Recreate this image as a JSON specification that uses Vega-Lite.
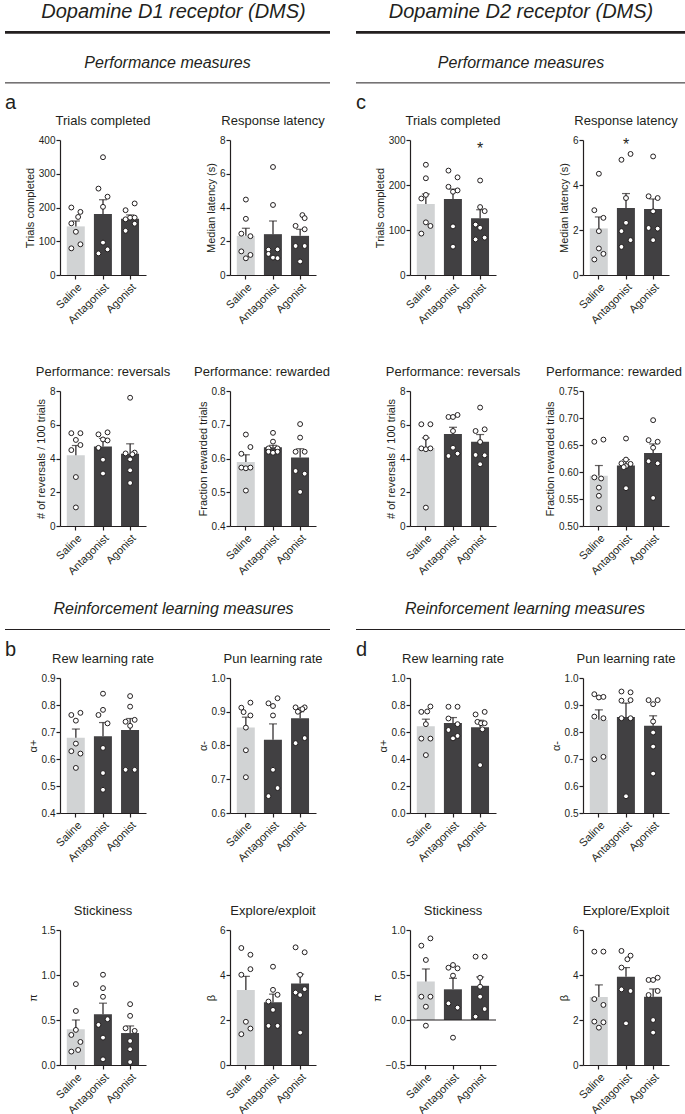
{
"$schema":"https://vega.github.io/schema/vega-lite/v6.json",
"background":"white",
"padding":{"left":3,"top":2,"right":0,"bottom":0},
"config":{
 "font":"Liberation Sans",
 "view":{"stroke":null},
 "axis":{"grid":false,"domainColor":"#231f20","tickColor":"#231f20","labelColor":"#231f20","titleColor":"#231f20","labelFontSize":10,"titleFontSize":11,"titleFontWeight":"normal","tickSize":4,"domainWidth":1.2,"tickWidth":1.2,"labelPadding":1,"titlePadding":3},
 "axisX":{"labelAngle":-45,"labelFontSize":11,"labelPadding":2},
 "title":{"fontSize":13,"fontWeight":"normal","color":"#231f20","offset":7}
},
"datasets":{
"hdr":[
{"c":"L","role":"title","t":"Dopamine D1 receptor (DMS)"},{"c":"L","role":"thick"},{"c":"L","role":"sub","t":"Performance measures"},{"c":"L","role":"thin"},
{"c":"R","role":"title","t":"Dopamine D2 receptor (DMS)"},{"c":"R","role":"thick"},{"c":"R","role":"sub","t":"Performance measures"},{"c":"R","role":"thin"},
{"c":"L2","role":"sub","t":"Reinforcement learning measures"},{"c":"L2","role":"thin"},
{"c":"R2","role":"sub","t":"Reinforcement learning measures"},{"c":"R2","role":"thin"}
],
"d":[
{"p":"a1","g":"Saline","k":"m","v":144,"hi":160},{"p":"a1","g":"Antagonist","k":"m","v":181,"hi":223},{"p":"a1","g":"Agonist","k":"m","v":167,"hi":178},
{"p":"a2","g":"Saline","k":"m","v":2.32,"hi":2.77},{"p":"a2","g":"Antagonist","k":"m","v":2.42,"hi":3.2},{"p":"a2","g":"Agonist","k":"m","v":2.32,"hi":2.71},
{"p":"a3","g":"Saline","k":"m","v":4.2,"hi":4.77},{"p":"a3","g":"Antagonist","k":"m","v":4.71,"hi":5.19},{"p":"a3","g":"Agonist","k":"m","v":4.28,"hi":4.87},
{"p":"a4","g":"Saline","k":"m","v":0.59,"hi":0.611},{"p":"a4","g":"Antagonist","k":"m","v":0.633,"hi":0.639},{"p":"a4","g":"Agonist","k":"m","v":0.603,"hi":0.629},
{"p":"c1","g":"Saline","k":"m","v":158,"hi":180},{"p":"c1","g":"Antagonist","k":"m","v":169,"hi":191},{"p":"c1","g":"Agonist","k":"m","v":126,"hi":145},
{"p":"c2","g":"Saline","k":"m","v":2.07,"hi":2.58},{"p":"c2","g":"Antagonist","k":"m","v":2.98,"hi":3.62},{"p":"c2","g":"Agonist","k":"m","v":2.93,"hi":3.38},
{"p":"c3","g":"Saline","k":"m","v":4.62,"hi":5.22},{"p":"c3","g":"Antagonist","k":"m","v":5.45,"hi":5.85},{"p":"c3","g":"Agonist","k":"m","v":5.0,"hi":5.42},
{"p":"c4","g":"Saline","k":"m","v":0.593,"hi":0.612},{"p":"c4","g":"Antagonist","k":"m","v":0.612,"hi":0.623},{"p":"c4","g":"Agonist","k":"m","v":0.635,"hi":0.652},
{"p":"b1","g":"Saline","k":"m","v":0.679,"hi":0.711},{"p":"b1","g":"Antagonist","k":"m","v":0.684,"hi":0.735},{"p":"b1","g":"Agonist","k":"m","v":0.707,"hi":0.75},
{"p":"b2","g":"Saline","k":"m","v":0.853,"hi":0.884},{"p":"b2","g":"Antagonist","k":"m","v":0.817,"hi":0.864},{"p":"b2","g":"Agonist","k":"m","v":0.881,"hi":0.9},
{"p":"b3","g":"Saline","k":"m","v":0.397,"hi":0.5},{"p":"b3","g":"Antagonist","k":"m","v":0.564,"hi":0.687},{"p":"b3","g":"Agonist","k":"m","v":0.355,"hi":0.434},
{"p":"b4","g":"Saline","k":"m","v":3.33,"hi":3.94},{"p":"b4","g":"Antagonist","k":"m","v":2.79,"hi":3.15},{"p":"b4","g":"Agonist","k":"m","v":3.62,"hi":4.04},
{"p":"d1","g":"Saline","k":"m","v":0.643,"hi":0.695},{"p":"d1","g":"Antagonist","k":"m","v":0.666,"hi":0.707},{"p":"d1","g":"Agonist","k":"m","v":0.635,"hi":0.687},
{"p":"d2","g":"Saline","k":"m","v":0.845,"hi":0.882},{"p":"d2","g":"Antagonist","k":"m","v":0.856,"hi":0.907},{"p":"d2","g":"Agonist","k":"m","v":0.823,"hi":0.86},
{"p":"d3","g":"Saline","k":"m","v":0.428,"hi":0.567},{"p":"d3","g":"Antagonist","k":"m","v":0.341,"hi":0.463},{"p":"d3","g":"Agonist","k":"m","v":0.38,"hi":0.478},
{"p":"d4","g":"Saline","k":"m","v":3.02,"hi":3.56},{"p":"d4","g":"Antagonist","k":"m","v":3.92,"hi":4.33},{"p":"d4","g":"Agonist","k":"m","v":3.03,"hi":3.38},
{"p":"c1","g":"Agonist","k":"t","v":280,"t":"*"},{"p":"c2","g":"Antagonist","k":"t","v":5.78,"t":"*"},
{"p":"a1","g":"Saline","k":"s","v":200,"j":-1},{"p":"a1","g":"Saline","k":"s","v":187,"j":1},{"p":"a1","g":"Saline","k":"s","v":172,"j":0.5},{"p":"a1","g":"Saline","k":"s","v":153,"j":-1},{"p":"a1","g":"Saline","k":"s","v":128,"j":0},{"p":"a1","g":"Saline","k":"s","v":91,"j":1},{"p":"a1","g":"Saline","k":"s","v":79,"j":-1},
{"p":"a1","g":"Antagonist","k":"s","v":349,"j":0},{"p":"a1","g":"Antagonist","k":"s","v":256,"j":-1},{"p":"a1","g":"Antagonist","k":"s","v":232,"j":1},{"p":"a1","g":"Antagonist","k":"s","v":202,"j":0},{"p":"a1","g":"Antagonist","k":"s","v":96,"j":0},{"p":"a1","g":"Antagonist","k":"s","v":76,"j":1},{"p":"a1","g":"Antagonist","k":"s","v":64,"j":-1},
{"p":"a1","g":"Agonist","k":"s","v":212,"j":1},{"p":"a1","g":"Agonist","k":"s","v":192,"j":-1},{"p":"a1","g":"Agonist","k":"s","v":170,"j":0},{"p":"a1","g":"Agonist","k":"s","v":165,"j":-1},{"p":"a1","g":"Agonist","k":"s","v":170,"j":1},{"p":"a1","g":"Agonist","k":"s","v":152,"j":1},{"p":"a1","g":"Agonist","k":"s","v":131,"j":-1},
{"p":"a2","g":"Saline","k":"s","v":4.47,"j":0},{"p":"a2","g":"Saline","k":"s","v":3.33,"j":0},{"p":"a2","g":"Saline","k":"s","v":2.45,"j":-1},{"p":"a2","g":"Saline","k":"s","v":2.3,"j":1},{"p":"a2","g":"Saline","k":"s","v":1.4,"j":-1},{"p":"a2","g":"Saline","k":"s","v":1.19,"j":1},{"p":"a2","g":"Saline","k":"s","v":0.99,"j":0},
{"p":"a2","g":"Antagonist","k":"s","v":6.4,"j":0},{"p":"a2","g":"Antagonist","k":"s","v":4.15,"j":0},{"p":"a2","g":"Antagonist","k":"s","v":1.52,"j":1},{"p":"a2","g":"Antagonist","k":"s","v":1.5,"j":-1},{"p":"a2","g":"Antagonist","k":"s","v":1.25,"j":-1},{"p":"a2","g":"Antagonist","k":"s","v":1.03,"j":0},{"p":"a2","g":"Antagonist","k":"s","v":1.0,"j":1},
{"p":"a2","g":"Agonist","k":"s","v":3.55,"j":0.5},{"p":"a2","g":"Agonist","k":"s","v":3.37,"j":1},{"p":"a2","g":"Agonist","k":"s","v":2.91,"j":-1},{"p":"a2","g":"Agonist","k":"s","v":2.71,"j":1},{"p":"a2","g":"Agonist","k":"s","v":1.72,"j":-1},{"p":"a2","g":"Agonist","k":"s","v":1.72,"j":1},{"p":"a2","g":"Agonist","k":"s","v":0.8,"j":0},
{"p":"a3","g":"Saline","k":"s","v":5.5,"j":-1},{"p":"a3","g":"Saline","k":"s","v":5.5,"j":1},{"p":"a3","g":"Saline","k":"s","v":5.1,"j":0},{"p":"a3","g":"Saline","k":"s","v":4.8,"j":1},{"p":"a3","g":"Saline","k":"s","v":4.5,"j":-1},{"p":"a3","g":"Saline","k":"s","v":2.9,"j":0},{"p":"a3","g":"Saline","k":"s","v":1.1,"j":0},
{"p":"a3","g":"Antagonist","k":"s","v":5.43,"j":-1},{"p":"a3","g":"Antagonist","k":"s","v":5.55,"j":1},{"p":"a3","g":"Antagonist","k":"s","v":5.13,"j":0},{"p":"a3","g":"Antagonist","k":"s","v":5.07,"j":1},{"p":"a3","g":"Antagonist","k":"s","v":4.63,"j":-1},{"p":"a3","g":"Antagonist","k":"s","v":3.93,"j":0},{"p":"a3","g":"Antagonist","k":"s","v":3.11,"j":0},
{"p":"a3","g":"Agonist","k":"s","v":7.6,"j":0},{"p":"a3","g":"Agonist","k":"s","v":4.35,"j":1},{"p":"a3","g":"Agonist","k":"s","v":4.3,"j":-1},{"p":"a3","g":"Agonist","k":"s","v":4.25,"j":0.5},{"p":"a3","g":"Agonist","k":"s","v":3.95,"j":0},{"p":"a3","g":"Agonist","k":"s","v":3.3,"j":0},{"p":"a3","g":"Agonist","k":"s","v":2.55,"j":0},
{"p":"a4","g":"Saline","k":"s","v":0.671,"j":0},{"p":"a4","g":"Saline","k":"s","v":0.634,"j":1},{"p":"a4","g":"Saline","k":"s","v":0.614,"j":-1},{"p":"a4","g":"Saline","k":"s","v":0.573,"j":-1},{"p":"a4","g":"Saline","k":"s","v":0.571,"j":0},{"p":"a4","g":"Saline","k":"s","v":0.573,"j":1},{"p":"a4","g":"Saline","k":"s","v":0.505,"j":0},
{"p":"a4","g":"Antagonist","k":"s","v":0.676,"j":0},{"p":"a4","g":"Antagonist","k":"s","v":0.65,"j":0},{"p":"a4","g":"Antagonist","k":"s","v":0.63,"j":-1},{"p":"a4","g":"Antagonist","k":"s","v":0.63,"j":1},{"p":"a4","g":"Antagonist","k":"s","v":0.62,"j":-1},{"p":"a4","g":"Antagonist","k":"s","v":0.617,"j":0},{"p":"a4","g":"Antagonist","k":"s","v":0.62,"j":1},
{"p":"a4","g":"Agonist","k":"s","v":0.702,"j":0},{"p":"a4","g":"Agonist","k":"s","v":0.662,"j":0},{"p":"a4","g":"Agonist","k":"s","v":0.62,"j":-1},{"p":"a4","g":"Agonist","k":"s","v":0.62,"j":1},{"p":"a4","g":"Agonist","k":"s","v":0.563,"j":-1},{"p":"a4","g":"Agonist","k":"s","v":0.555,"j":1},{"p":"a4","g":"Agonist","k":"s","v":0.501,"j":0},
{"p":"c1","g":"Saline","k":"s","v":245,"j":0},{"p":"c1","g":"Saline","k":"s","v":215,"j":0},{"p":"c1","g":"Saline","k":"s","v":178,"j":0},{"p":"c1","g":"Saline","k":"s","v":170,"j":-1},{"p":"c1","g":"Saline","k":"s","v":117,"j":0},{"p":"c1","g":"Saline","k":"s","v":109,"j":1},{"p":"c1","g":"Saline","k":"s","v":92,"j":-1},
{"p":"c1","g":"Antagonist","k":"s","v":232,"j":-1},{"p":"c1","g":"Antagonist","k":"s","v":217,"j":1},{"p":"c1","g":"Antagonist","k":"s","v":196,"j":-1},{"p":"c1","g":"Antagonist","k":"s","v":188,"j":1},{"p":"c1","g":"Antagonist","k":"s","v":185,"j":0},{"p":"c1","g":"Antagonist","k":"s","v":108,"j":0},{"p":"c1","g":"Antagonist","k":"s","v":63,"j":0},
{"p":"c1","g":"Agonist","k":"s","v":210,"j":0},{"p":"c1","g":"Agonist","k":"s","v":151,"j":0},{"p":"c1","g":"Agonist","k":"s","v":142,"j":1},{"p":"c1","g":"Agonist","k":"s","v":112,"j":-1},{"p":"c1","g":"Agonist","k":"s","v":105,"j":0},{"p":"c1","g":"Agonist","k":"s","v":83,"j":1},{"p":"c1","g":"Agonist","k":"s","v":79,"j":-1},
{"p":"c2","g":"Saline","k":"s","v":4.5,"j":0},{"p":"c2","g":"Saline","k":"s","v":2.88,"j":-1},{"p":"c2","g":"Saline","k":"s","v":2.54,"j":1},{"p":"c2","g":"Saline","k":"s","v":1.95,"j":0},{"p":"c2","g":"Saline","k":"s","v":1.18,"j":0},{"p":"c2","g":"Saline","k":"s","v":0.94,"j":1},{"p":"c2","g":"Saline","k":"s","v":0.69,"j":-1},
{"p":"c2","g":"Antagonist","k":"s","v":5.12,"j":-1},{"p":"c2","g":"Antagonist","k":"s","v":5.38,"j":1},{"p":"c2","g":"Antagonist","k":"s","v":3.42,"j":0},{"p":"c2","g":"Antagonist","k":"s","v":2.32,"j":0},{"p":"c2","g":"Antagonist","k":"s","v":1.95,"j":-1},{"p":"c2","g":"Antagonist","k":"s","v":1.55,"j":1},{"p":"c2","g":"Antagonist","k":"s","v":1.25,"j":-1},
{"p":"c2","g":"Agonist","k":"s","v":5.27,"j":0},{"p":"c2","g":"Agonist","k":"s","v":3.5,"j":-1},{"p":"c2","g":"Agonist","k":"s","v":3.42,"j":1},{"p":"c2","g":"Agonist","k":"s","v":2.83,"j":0},{"p":"c2","g":"Agonist","k":"s","v":2.09,"j":-1},{"p":"c2","g":"Agonist","k":"s","v":2.06,"j":1},{"p":"c2","g":"Agonist","k":"s","v":1.55,"j":0},
{"p":"c3","g":"Saline","k":"s","v":6.03,"j":-1},{"p":"c3","g":"Saline","k":"s","v":6.03,"j":1},{"p":"c3","g":"Saline","k":"s","v":5.24,"j":0},{"p":"c3","g":"Saline","k":"s","v":4.6,"j":-1},{"p":"c3","g":"Saline","k":"s","v":4.55,"j":0},{"p":"c3","g":"Saline","k":"s","v":4.6,"j":1},{"p":"c3","g":"Saline","k":"s","v":1.09,"j":0},
{"p":"c3","g":"Antagonist","k":"s","v":6.46,"j":-1},{"p":"c3","g":"Antagonist","k":"s","v":6.46,"j":0},{"p":"c3","g":"Antagonist","k":"s","v":6.58,"j":1},{"p":"c3","g":"Antagonist","k":"s","v":5.63,"j":0},{"p":"c3","g":"Antagonist","k":"s","v":4.64,"j":0},{"p":"c3","g":"Antagonist","k":"s","v":4.15,"j":-1},{"p":"c3","g":"Antagonist","k":"s","v":4.29,"j":1},
{"p":"c3","g":"Agonist","k":"s","v":7.02,"j":0},{"p":"c3","g":"Agonist","k":"s","v":5.63,"j":-1},{"p":"c3","g":"Agonist","k":"s","v":5.73,"j":1},{"p":"c3","g":"Agonist","k":"s","v":4.98,"j":0},{"p":"c3","g":"Agonist","k":"s","v":4.21,"j":-1},{"p":"c3","g":"Agonist","k":"s","v":4.19,"j":1},{"p":"c3","g":"Agonist","k":"s","v":3.66,"j":0},
{"p":"c4","g":"Saline","k":"s","v":0.656,"j":-1},{"p":"c4","g":"Saline","k":"s","v":0.66,"j":1},{"p":"c4","g":"Saline","k":"s","v":0.59,"j":-1},{"p":"c4","g":"Saline","k":"s","v":0.588,"j":0.5},{"p":"c4","g":"Saline","k":"s","v":0.571,"j":0},{"p":"c4","g":"Saline","k":"s","v":0.556,"j":0},{"p":"c4","g":"Saline","k":"s","v":0.533,"j":0},
{"p":"c4","g":"Antagonist","k":"s","v":0.662,"j":0},{"p":"c4","g":"Antagonist","k":"s","v":0.623,"j":0},{"p":"c4","g":"Antagonist","k":"s","v":0.616,"j":-1},{"p":"c4","g":"Antagonist","k":"s","v":0.615,"j":1},{"p":"c4","g":"Antagonist","k":"s","v":0.611,"j":0},{"p":"c4","g":"Antagonist","k":"s","v":0.609,"j":-0.5},{"p":"c4","g":"Antagonist","k":"s","v":0.57,"j":0},
{"p":"c4","g":"Agonist","k":"s","v":0.696,"j":0},{"p":"c4","g":"Agonist","k":"s","v":0.659,"j":-1},{"p":"c4","g":"Agonist","k":"s","v":0.656,"j":1},{"p":"c4","g":"Agonist","k":"s","v":0.645,"j":0},{"p":"c4","g":"Agonist","k":"s","v":0.62,"j":-1},{"p":"c4","g":"Agonist","k":"s","v":0.616,"j":1},{"p":"c4","g":"Agonist","k":"s","v":0.552,"j":0},
{"p":"b1","g":"Saline","k":"s","v":0.763,"j":-1},{"p":"b1","g":"Saline","k":"s","v":0.771,"j":1},{"p":"b1","g":"Saline","k":"s","v":0.742,"j":0},{"p":"b1","g":"Saline","k":"s","v":0.657,"j":0},{"p":"b1","g":"Saline","k":"s","v":0.629,"j":-1},{"p":"b1","g":"Saline","k":"s","v":0.62,"j":1},{"p":"b1","g":"Saline","k":"s","v":0.567,"j":0},
{"p":"b1","g":"Antagonist","k":"s","v":0.842,"j":0},{"p":"b1","g":"Antagonist","k":"s","v":0.782,"j":0},{"p":"b1","g":"Antagonist","k":"s","v":0.763,"j":-1},{"p":"b1","g":"Antagonist","k":"s","v":0.732,"j":1},{"p":"b1","g":"Antagonist","k":"s","v":0.641,"j":0},{"p":"b1","g":"Antagonist","k":"s","v":0.548,"j":0},{"p":"b1","g":"Antagonist","k":"s","v":0.486,"j":0},
{"p":"b1","g":"Agonist","k":"s","v":0.833,"j":0},{"p":"b1","g":"Agonist","k":"s","v":0.794,"j":0},{"p":"b1","g":"Agonist","k":"s","v":0.738,"j":-1},{"p":"b1","g":"Agonist","k":"s","v":0.745,"j":1},{"p":"b1","g":"Agonist","k":"s","v":0.723,"j":0},{"p":"b1","g":"Agonist","k":"s","v":0.56,"j":-1},{"p":"b1","g":"Agonist","k":"s","v":0.56,"j":1},
{"p":"b2","g":"Saline","k":"s","v":0.912,"j":-1},{"p":"b2","g":"Saline","k":"s","v":0.899,"j":-0.5},{"p":"b2","g":"Saline","k":"s","v":0.927,"j":1},{"p":"b2","g":"Saline","k":"s","v":0.889,"j":1},{"p":"b2","g":"Saline","k":"s","v":0.853,"j":0},{"p":"b2","g":"Saline","k":"s","v":0.786,"j":0},{"p":"b2","g":"Saline","k":"s","v":0.706,"j":0},
{"p":"b2","g":"Antagonist","k":"s","v":0.94,"j":1},{"p":"b2","g":"Antagonist","k":"s","v":0.925,"j":-1},{"p":"b2","g":"Antagonist","k":"s","v":0.917,"j":0},{"p":"b2","g":"Antagonist","k":"s","v":0.889,"j":0},{"p":"b2","g":"Antagonist","k":"s","v":0.728,"j":0},{"p":"b2","g":"Antagonist","k":"s","v":0.674,"j":1},{"p":"b2","g":"Antagonist","k":"s","v":0.65,"j":-1},
{"p":"b2","g":"Agonist","k":"s","v":0.913,"j":-1},{"p":"b2","g":"Agonist","k":"s","v":0.913,"j":1},{"p":"b2","g":"Agonist","k":"s","v":0.905,"j":0},{"p":"b2","g":"Agonist","k":"s","v":0.908,"j":0.5},{"p":"b2","g":"Agonist","k":"s","v":0.9,"j":-0.5},{"p":"b2","g":"Agonist","k":"s","v":0.822,"j":1},{"p":"b2","g":"Agonist","k":"s","v":0.807,"j":-1},
{"p":"b3","g":"Saline","k":"s","v":0.899,"j":0},{"p":"b3","g":"Saline","k":"s","v":0.6,"j":0},{"p":"b3","g":"Saline","k":"s","v":0.39,"j":0},{"p":"b3","g":"Saline","k":"s","v":0.334,"j":-1},{"p":"b3","g":"Saline","k":"s","v":0.256,"j":1},{"p":"b3","g":"Saline","k":"s","v":0.167,"j":0.5},{"p":"b3","g":"Saline","k":"s","v":0.149,"j":-1},
{"p":"b3","g":"Antagonist","k":"s","v":1.003,"j":0},{"p":"b3","g":"Antagonist","k":"s","v":0.854,"j":0},{"p":"b3","g":"Antagonist","k":"s","v":0.758,"j":0},{"p":"b3","g":"Antagonist","k":"s","v":0.509,"j":1},{"p":"b3","g":"Antagonist","k":"s","v":0.446,"j":-1},{"p":"b3","g":"Antagonist","k":"s","v":0.304,"j":0},{"p":"b3","g":"Antagonist","k":"s","v":0.063,"j":0},
{"p":"b3","g":"Agonist","k":"s","v":0.676,"j":0},{"p":"b3","g":"Agonist","k":"s","v":0.546,"j":0},{"p":"b3","g":"Agonist","k":"s","v":0.408,"j":-1},{"p":"b3","g":"Agonist","k":"s","v":0.379,"j":1},{"p":"b3","g":"Agonist","k":"s","v":0.267,"j":0},{"p":"b3","g":"Agonist","k":"s","v":0.175,"j":0},{"p":"b3","g":"Agonist","k":"s","v":0.033,"j":0},
{"p":"b4","g":"Saline","k":"s","v":5.2,"j":-1},{"p":"b4","g":"Saline","k":"s","v":4.9,"j":1},{"p":"b4","g":"Saline","k":"s","v":4.26,"j":1},{"p":"b4","g":"Saline","k":"s","v":4.01,"j":-1},{"p":"b4","g":"Saline","k":"s","v":1.92,"j":0},{"p":"b4","g":"Saline","k":"s","v":1.62,"j":1},{"p":"b4","g":"Saline","k":"s","v":1.37,"j":-1},
{"p":"b4","g":"Antagonist","k":"s","v":4.37,"j":0},{"p":"b4","g":"Antagonist","k":"s","v":3.34,"j":0},{"p":"b4","g":"Antagonist","k":"s","v":3.12,"j":1},{"p":"b4","g":"Antagonist","k":"s","v":2.82,"j":-1},{"p":"b4","g":"Antagonist","k":"s","v":2.45,"j":0},{"p":"b4","g":"Antagonist","k":"s","v":1.74,"j":-1},{"p":"b4","g":"Antagonist","k":"s","v":1.74,"j":1},
{"p":"b4","g":"Agonist","k":"s","v":5.23,"j":-1},{"p":"b4","g":"Agonist","k":"s","v":5.01,"j":1},{"p":"b4","g":"Agonist","k":"s","v":4.01,"j":0},{"p":"b4","g":"Agonist","k":"s","v":3.22,"j":-1},{"p":"b4","g":"Agonist","k":"s","v":3.37,"j":1},{"p":"b4","g":"Agonist","k":"s","v":3.11,"j":0},{"p":"b4","g":"Agonist","k":"s","v":1.44,"j":0},
{"p":"d1","g":"Saline","k":"s","v":0.749,"j":-1},{"p":"d1","g":"Saline","k":"s","v":0.752,"j":0.3},{"p":"d1","g":"Saline","k":"s","v":0.789,"j":1},{"p":"d1","g":"Saline","k":"s","v":0.658,"j":0},{"p":"d1","g":"Saline","k":"s","v":0.551,"j":-1},{"p":"d1","g":"Saline","k":"s","v":0.551,"j":1},{"p":"d1","g":"Saline","k":"s","v":0.429,"j":0},
{"p":"d1","g":"Antagonist","k":"s","v":0.787,"j":-1},{"p":"d1","g":"Antagonist","k":"s","v":0.787,"j":1},{"p":"d1","g":"Antagonist","k":"s","v":0.7,"j":-1},{"p":"d1","g":"Antagonist","k":"s","v":0.658,"j":1},{"p":"d1","g":"Antagonist","k":"s","v":0.615,"j":-1},{"p":"d1","g":"Antagonist","k":"s","v":0.553,"j":0},{"p":"d1","g":"Antagonist","k":"s","v":0.571,"j":1},
{"p":"d1","g":"Agonist","k":"s","v":0.73,"j":-1},{"p":"d1","g":"Agonist","k":"s","v":0.749,"j":1},{"p":"d1","g":"Agonist","k":"s","v":0.675,"j":-0.6},{"p":"d1","g":"Agonist","k":"s","v":0.665,"j":0.2},{"p":"d1","g":"Agonist","k":"s","v":0.665,"j":1},{"p":"d1","g":"Agonist","k":"s","v":0.62,"j":0.5},{"p":"d1","g":"Agonist","k":"s","v":0.355,"j":0},
{"p":"d2","g":"Saline","k":"s","v":0.94,"j":-1},{"p":"d2","g":"Saline","k":"s","v":0.928,"j":0},{"p":"d2","g":"Saline","k":"s","v":0.93,"j":1},{"p":"d2","g":"Saline","k":"s","v":0.857,"j":-1},{"p":"d2","g":"Saline","k":"s","v":0.851,"j":1},{"p":"d2","g":"Saline","k":"s","v":0.699,"j":-1},{"p":"d2","g":"Saline","k":"s","v":0.708,"j":1},
{"p":"d2","g":"Antagonist","k":"s","v":0.95,"j":-1},{"p":"d2","g":"Antagonist","k":"s","v":0.947,"j":1},{"p":"d2","g":"Antagonist","k":"s","v":0.916,"j":-1},{"p":"d2","g":"Antagonist","k":"s","v":0.918,"j":1},{"p":"d2","g":"Antagonist","k":"s","v":0.851,"j":-1},{"p":"d2","g":"Antagonist","k":"s","v":0.851,"j":1},{"p":"d2","g":"Antagonist","k":"s","v":0.562,"j":0},
{"p":"d2","g":"Agonist","k":"s","v":0.918,"j":-1},{"p":"d2","g":"Agonist","k":"s","v":0.918,"j":1},{"p":"d2","g":"Agonist","k":"s","v":0.903,"j":0},{"p":"d2","g":"Agonist","k":"s","v":0.839,"j":0},{"p":"d2","g":"Agonist","k":"s","v":0.798,"j":0},{"p":"d2","g":"Agonist","k":"s","v":0.746,"j":0},{"p":"d2","g":"Agonist","k":"s","v":0.646,"j":0},
{"p":"d3","g":"Saline","k":"s","v":0.826,"j":-1},{"p":"d3","g":"Saline","k":"s","v":0.907,"j":1},{"p":"d3","g":"Saline","k":"s","v":0.667,"j":0},{"p":"d3","g":"Saline","k":"s","v":0.259,"j":-1},{"p":"d3","g":"Saline","k":"s","v":0.259,"j":1},{"p":"d3","g":"Saline","k":"s","v":0.148,"j":0},{"p":"d3","g":"Saline","k":"s","v":-0.063,"j":0},
{"p":"d3","g":"Antagonist","k":"s","v":0.581,"j":-1},{"p":"d3","g":"Antagonist","k":"s","v":0.611,"j":0},{"p":"d3","g":"Antagonist","k":"s","v":0.574,"j":1},{"p":"d3","g":"Antagonist","k":"s","v":0.493,"j":0},{"p":"d3","g":"Antagonist","k":"s","v":0.185,"j":-1},{"p":"d3","g":"Antagonist","k":"s","v":0.137,"j":1},{"p":"d3","g":"Antagonist","k":"s","v":-0.196,"j":0},
{"p":"d3","g":"Agonist","k":"s","v":0.704,"j":-1},{"p":"d3","g":"Agonist","k":"s","v":0.704,"j":1},{"p":"d3","g":"Agonist","k":"s","v":0.47,"j":0},{"p":"d3","g":"Agonist","k":"s","v":0.37,"j":0},{"p":"d3","g":"Agonist","k":"s","v":0.259,"j":0},{"p":"d3","g":"Agonist","k":"s","v":0.122,"j":1},{"p":"d3","g":"Agonist","k":"s","v":0.037,"j":-1},
{"p":"d4","g":"Saline","k":"s","v":5.04,"j":-1},{"p":"d4","g":"Saline","k":"s","v":5.04,"j":1},{"p":"d4","g":"Saline","k":"s","v":2.93,"j":-1},{"p":"d4","g":"Saline","k":"s","v":2.67,"j":1},{"p":"d4","g":"Saline","k":"s","v":1.93,"j":-1},{"p":"d4","g":"Saline","k":"s","v":1.9,"j":1},{"p":"d4","g":"Saline","k":"s","v":1.66,"j":0},
{"p":"d4","g":"Antagonist","k":"s","v":5.07,"j":-1},{"p":"d4","g":"Antagonist","k":"s","v":4.7,"j":0.3},{"p":"d4","g":"Antagonist","k":"s","v":4.86,"j":1},{"p":"d4","g":"Antagonist","k":"s","v":4.33,"j":-1},{"p":"d4","g":"Antagonist","k":"s","v":3.36,"j":-1},{"p":"d4","g":"Antagonist","k":"s","v":3.29,"j":1},{"p":"d4","g":"Antagonist","k":"s","v":1.85,"j":0},
{"p":"d4","g":"Agonist","k":"s","v":3.78,"j":-1},{"p":"d4","g":"Agonist","k":"s","v":3.78,"j":0},{"p":"d4","g":"Agonist","k":"s","v":3.88,"j":1},{"p":"d4","g":"Agonist","k":"s","v":3.29,"j":1},{"p":"d4","g":"Agonist","k":"s","v":3.11,"j":-1},{"p":"d4","g":"Agonist","k":"s","v":2.0,"j":0},{"p":"d4","g":"Agonist","k":"s","v":1.44,"j":0}
]
},
"hconcat":[
{"vconcat":[
 {"width":270,"height":91,"data":{"name":"hdr"},"transform":[{"filter":"datum.c==='L'"}],
  "encoding":{"y":{"field":"role","type":"nominal","scale":{"type":"point","domain":["_1","title","_2","thick","_3","_4","sub","_5","thin","_6"],"padding":0},"axis":null}},
  "layer":[
   {"transform":[{"filter":"datum.role==='title'"}],"mark":{"type":"text","fontSize":20,"fontStyle":"italic","color":"#231f20","baseline":"middle","dx":6},"encoding":{"text":{"field":"t"},"x":{"datum":"mid","type":"nominal","scale":{"type":"point","domain":["start","mid","end"],"range":[-55,270],"padding":0},"axis":null}}},
   {"transform":[{"filter":"datum.role==='sub'"}],"mark":{"type":"text","fontSize":16,"fontStyle":"italic","color":"#231f20","baseline":"middle"},"encoding":{"text":{"field":"t"},"x":{"datum":"mid","type":"nominal","axis":null}}},
   {"transform":[{"filter":"datum.role==='thick'"}],"mark":{"type":"rule","strokeWidth":2.7,"color":"#231f20"},"encoding":{"x":{"datum":"start","type":"nominal","axis":null},"x2":{"datum":"end"}}},
   {"transform":[{"filter":"datum.role==='thin'"}],"mark":{"type":"rule","strokeWidth":1,"color":"#231f20"},"encoding":{"x":{"datum":"start","type":"nominal","axis":null},"x2":{"datum":"end"}}}
  ]},
 {"hconcat":[
  {"width":86,"height":135,"title":"Trials completed","data":{"name":"d"},"transform":[{"filter":"datum.p==='a1'"}],
   "encoding":{"x":{"field":"g","type":"nominal","sort":["Saline","Antagonist","Agonist"],"title":null,"scale":{"paddingInner":0.33,"paddingOuter":0.25}},"y":{"field":"v","type":"quantitative","title":"Trials completed","scale":{"domain":[0,400],"nice":false,"zero":false},"axis":{"values":[0,100,200,300,400]}}},
   "layer":[
    {"transform":[{"filter":"datum.k==='m'"}],"mark":{"type":"bar","clip":true},"encoding":{"color":{"field":"g","type":"nominal","scale":{"domain":["Saline","Antagonist","Agonist"],"range":["#d1d3d4","#414042","#414042"]},"legend":null}}},
    {"transform":[{"filter":"datum.k==='m'"}],"mark":{"type":"rule","color":"#231f20","strokeWidth":1.2},"encoding":{"y2":{"field":"hi"}}},
    {"transform":[{"filter":"datum.k==='m'"}],"mark":{"type":"tick","color":"#231f20","thickness":1.2,"size":8},"encoding":{"y":{"field":"hi","type":"quantitative","title":"Trials completed","scale":{"domain":[0,400],"nice":false,"zero":false}}}},
    {"transform":[{"filter":"datum.k==='s'"}],"mark":{"type":"point","shape":"circle","filled":true,"fill":"#ffffff","stroke":"#231f20","strokeWidth":1,"size":24,"opacity":1},"encoding":{"xOffset":{"field":"j","type":"quantitative","scale":{"domain":[-2,2]}}}}
   ]},
  {"width":86,"height":135,"title":"Response latency","data":{"name":"d"},"transform":[{"filter":"datum.p==='a2'"}],
   "encoding":{"x":{"field":"g","type":"nominal","sort":["Saline","Antagonist","Agonist"],"title":null,"scale":{"paddingInner":0.33,"paddingOuter":0.25}},"y":{"field":"v","type":"quantitative","title":"Median latency (s)","scale":{"domain":[0,8],"nice":false,"zero":false},"axis":{"values":[0,2,4,6,8]}}},
   "layer":[
    {"transform":[{"filter":"datum.k==='m'"}],"mark":{"type":"bar","clip":true},"encoding":{"color":{"field":"g","type":"nominal","scale":{"domain":["Saline","Antagonist","Agonist"],"range":["#d1d3d4","#414042","#414042"]},"legend":null}}},
    {"transform":[{"filter":"datum.k==='m'"}],"mark":{"type":"rule","color":"#231f20","strokeWidth":1.2},"encoding":{"y2":{"field":"hi"}}},
    {"transform":[{"filter":"datum.k==='m'"}],"mark":{"type":"tick","color":"#231f20","thickness":1.2,"size":8},"encoding":{"y":{"field":"hi","type":"quantitative","title":"Median latency (s)","scale":{"domain":[0,8],"nice":false,"zero":false}}}},
    {"transform":[{"filter":"datum.k==='s'"}],"mark":{"type":"point","shape":"circle","filled":true,"fill":"#ffffff","stroke":"#231f20","strokeWidth":1,"size":24,"opacity":1},"encoding":{"xOffset":{"field":"j","type":"quantitative","scale":{"domain":[-2,2]}}}}
   ]}
 ],"spacing":84,"bounds":"flush","title":{"text":"a","anchor":"start","frame":"group","dx":-55,"fontSize":20,"offset":2}},
 {"hconcat":[
  {"width":86,"height":135,"title":"Performance: reversals","data":{"name":"d"},"transform":[{"filter":"datum.p==='a3'"}],
   "encoding":{"x":{"field":"g","type":"nominal","sort":["Saline","Antagonist","Agonist"],"title":null,"scale":{"paddingInner":0.33,"paddingOuter":0.25}},"y":{"field":"v","type":"quantitative","title":"# of reversals / 100 trials","scale":{"domain":[0,8],"nice":false,"zero":false},"axis":{"values":[0,2,4,6,8]}}},
   "layer":[
    {"transform":[{"filter":"datum.k==='m'"}],"mark":{"type":"bar","clip":true},"encoding":{"color":{"field":"g","type":"nominal","scale":{"domain":["Saline","Antagonist","Agonist"],"range":["#d1d3d4","#414042","#414042"]},"legend":null}}},
    {"transform":[{"filter":"datum.k==='m'"}],"mark":{"type":"rule","color":"#231f20","strokeWidth":1.2},"encoding":{"y2":{"field":"hi"}}},
    {"transform":[{"filter":"datum.k==='m'"}],"mark":{"type":"tick","color":"#231f20","thickness":1.2,"size":8},"encoding":{"y":{"field":"hi","type":"quantitative","title":"# of reversals / 100 trials","scale":{"domain":[0,8],"nice":false,"zero":false}}}},
    {"transform":[{"filter":"datum.k==='s'"}],"mark":{"type":"point","shape":"circle","filled":true,"fill":"#ffffff","stroke":"#231f20","strokeWidth":1,"size":24,"opacity":1},"encoding":{"xOffset":{"field":"j","type":"quantitative","scale":{"domain":[-2,2]}}}}
   ]},
  {"width":86,"height":135,"title":{"text":"Performance: rewarded","dx":-11},"data":{"name":"d"},"transform":[{"filter":"datum.p==='a4'"}],
   "encoding":{"x":{"field":"g","type":"nominal","sort":["Saline","Antagonist","Agonist"],"title":null,"scale":{"paddingInner":0.33,"paddingOuter":0.25}},"y":{"field":"v","type":"quantitative","title":"Fraction rewarded trials","scale":{"domain":[0.4,0.8],"nice":false,"zero":false},"axis":{"values":[0.4,0.5,0.6,0.7,0.8],"format":".1f"}}},
   "layer":[
    {"transform":[{"filter":"datum.k==='m'"}],"mark":{"type":"bar","clip":true},"encoding":{"color":{"field":"g","type":"nominal","scale":{"domain":["Saline","Antagonist","Agonist"],"range":["#d1d3d4","#414042","#414042"]},"legend":null}}},
    {"transform":[{"filter":"datum.k==='m'"}],"mark":{"type":"rule","color":"#231f20","strokeWidth":1.2},"encoding":{"y2":{"field":"hi"}}},
    {"transform":[{"filter":"datum.k==='m'"}],"mark":{"type":"tick","color":"#231f20","thickness":1.2,"size":8},"encoding":{"y":{"field":"hi","type":"quantitative","title":"Fraction rewarded trials","scale":{"domain":[0.4,0.8],"nice":false,"zero":false}}}},
    {"transform":[{"filter":"datum.k==='s'"}],"mark":{"type":"point","shape":"circle","filled":true,"fill":"#ffffff","stroke":"#231f20","strokeWidth":1,"size":24,"opacity":1},"encoding":{"xOffset":{"field":"j","type":"quantitative","scale":{"domain":[-2,2]}}}}
   ]}
 ],"spacing":84,"bounds":"flush","title":{"text":" ","anchor":"start","frame":"group","dx":-55,"fontSize":20,"offset":20}},
 {"width":270,"height":63,"data":{"name":"hdr"},"transform":[{"filter":"datum.c==='L2'"}],
  "encoding":{"y":{"field":"role","type":"nominal","scale":{"type":"point","domain":["_1","_2","_3","sub","_5","thin","_6"],"padding":0},"axis":null}},
  "layer":[
   {"transform":[{"filter":"datum.role==='sub'"}],"mark":{"type":"text","fontSize":16,"fontStyle":"italic","color":"#231f20","baseline":"middle","dx":6},"encoding":{"text":{"field":"t"},"x":{"datum":"mid","type":"nominal","scale":{"type":"point","domain":["start","mid","end"],"range":[-55,270],"padding":0},"axis":null}}},
   {"transform":[{"filter":"datum.role==='thin'"}],"mark":{"type":"rule","strokeWidth":1,"color":"#231f20"},"encoding":{"x":{"datum":"start","type":"nominal","axis":null},"x2":{"datum":"end"}}}
  ]},
 {"hconcat":[
  {"width":86,"height":135,"title":"Rew learning rate","data":{"name":"d"},"transform":[{"filter":"datum.p==='b1'"}],
   "encoding":{"x":{"field":"g","type":"nominal","sort":["Saline","Antagonist","Agonist"],"title":null,"scale":{"paddingInner":0.33,"paddingOuter":0.25}},"y":{"field":"v","type":"quantitative","title":"α+","scale":{"domain":[0.4,0.9],"nice":false,"zero":false},"axis":{"values":[0.4,0.5,0.6,0.7,0.8,0.9],"format":".1f"}}},
   "layer":[
    {"transform":[{"filter":"datum.k==='m'"}],"mark":{"type":"bar","clip":true},"encoding":{"color":{"field":"g","type":"nominal","scale":{"domain":["Saline","Antagonist","Agonist"],"range":["#d1d3d4","#414042","#414042"]},"legend":null}}},
    {"transform":[{"filter":"datum.k==='m'"}],"mark":{"type":"rule","color":"#231f20","strokeWidth":1.2},"encoding":{"y2":{"field":"hi"}}},
    {"transform":[{"filter":"datum.k==='m'"}],"mark":{"type":"tick","color":"#231f20","thickness":1.2,"size":8},"encoding":{"y":{"field":"hi","type":"quantitative","title":"α+","scale":{"domain":[0.4,0.9],"nice":false,"zero":false}}}},
    {"transform":[{"filter":"datum.k==='s'"}],"mark":{"type":"point","shape":"circle","filled":true,"fill":"#ffffff","stroke":"#231f20","strokeWidth":1,"size":24,"opacity":1},"encoding":{"xOffset":{"field":"j","type":"quantitative","scale":{"domain":[-2,2]}}}}
   ]},
  {"width":86,"height":135,"title":"Pun learning rate","data":{"name":"d"},"transform":[{"filter":"datum.p==='b2'"}],
   "encoding":{"x":{"field":"g","type":"nominal","sort":["Saline","Antagonist","Agonist"],"title":null,"scale":{"paddingInner":0.33,"paddingOuter":0.25}},"y":{"field":"v","type":"quantitative","title":"α-","scale":{"domain":[0.6,1.0],"nice":false,"zero":false},"axis":{"values":[0.6,0.7,0.8,0.9,1.0],"format":".1f"}}},
   "layer":[
    {"transform":[{"filter":"datum.k==='m'"}],"mark":{"type":"bar","clip":true},"encoding":{"color":{"field":"g","type":"nominal","scale":{"domain":["Saline","Antagonist","Agonist"],"range":["#d1d3d4","#414042","#414042"]},"legend":null}}},
    {"transform":[{"filter":"datum.k==='m'"}],"mark":{"type":"rule","color":"#231f20","strokeWidth":1.2},"encoding":{"y2":{"field":"hi"}}},
    {"transform":[{"filter":"datum.k==='m'"}],"mark":{"type":"tick","color":"#231f20","thickness":1.2,"size":8},"encoding":{"y":{"field":"hi","type":"quantitative","title":"α-","scale":{"domain":[0.6,1.0],"nice":false,"zero":false}}}},
    {"transform":[{"filter":"datum.k==='s'"}],"mark":{"type":"point","shape":"circle","filled":true,"fill":"#ffffff","stroke":"#231f20","strokeWidth":1,"size":24,"opacity":1},"encoding":{"xOffset":{"field":"j","type":"quantitative","scale":{"domain":[-2,2]}}}}
   ]}
 ],"spacing":84,"bounds":"flush","title":{"text":"b","anchor":"start","frame":"group","dx":-55,"fontSize":20,"offset":-7}},
 {"hconcat":[
  {"width":86,"height":135,"title":"Stickiness","data":{"name":"d"},"transform":[{"filter":"datum.p==='b3'"}],
   "encoding":{"x":{"field":"g","type":"nominal","sort":["Saline","Antagonist","Agonist"],"title":null,"scale":{"paddingInner":0.33,"paddingOuter":0.25}},"y":{"field":"v","type":"quantitative","title":"π","scale":{"domain":[0,1.5],"nice":false,"zero":false},"axis":{"values":[0,0.5,1,1.5],"format":".1f"}}},
   "layer":[
    {"transform":[{"filter":"datum.k==='m'"}],"mark":{"type":"bar","clip":true},"encoding":{"color":{"field":"g","type":"nominal","scale":{"domain":["Saline","Antagonist","Agonist"],"range":["#d1d3d4","#414042","#414042"]},"legend":null}}},
    {"transform":[{"filter":"datum.k==='m'"}],"mark":{"type":"rule","color":"#231f20","strokeWidth":1.2},"encoding":{"y2":{"field":"hi"}}},
    {"transform":[{"filter":"datum.k==='m'"}],"mark":{"type":"tick","color":"#231f20","thickness":1.2,"size":8},"encoding":{"y":{"field":"hi","type":"quantitative","title":"π","scale":{"domain":[0,1.5],"nice":false,"zero":false}}}},
    {"transform":[{"filter":"datum.k==='s'"}],"mark":{"type":"point","shape":"circle","filled":true,"fill":"#ffffff","stroke":"#231f20","strokeWidth":1,"size":24,"opacity":1},"encoding":{"xOffset":{"field":"j","type":"quantitative","scale":{"domain":[-2,2]}}}}
   ]},
  {"width":86,"height":135,"title":"Explore/exploit","data":{"name":"d"},"transform":[{"filter":"datum.p==='b4'"}],
   "encoding":{"x":{"field":"g","type":"nominal","sort":["Saline","Antagonist","Agonist"],"title":null,"scale":{"paddingInner":0.33,"paddingOuter":0.25}},"y":{"field":"v","type":"quantitative","title":"β","scale":{"domain":[0,6],"nice":false,"zero":false},"axis":{"values":[0,2,4,6]}}},
   "layer":[
    {"transform":[{"filter":"datum.k==='m'"}],"mark":{"type":"bar","clip":true},"encoding":{"color":{"field":"g","type":"nominal","scale":{"domain":["Saline","Antagonist","Agonist"],"range":["#d1d3d4","#414042","#414042"]},"legend":null}}},
    {"transform":[{"filter":"datum.k==='m'"}],"mark":{"type":"rule","color":"#231f20","strokeWidth":1.2},"encoding":{"y2":{"field":"hi"}}},
    {"transform":[{"filter":"datum.k==='m'"}],"mark":{"type":"tick","color":"#231f20","thickness":1.2,"size":8},"encoding":{"y":{"field":"hi","type":"quantitative","title":"β","scale":{"domain":[0,6],"nice":false,"zero":false}}}},
    {"transform":[{"filter":"datum.k==='s'"}],"mark":{"type":"point","shape":"circle","filled":true,"fill":"#ffffff","stroke":"#231f20","strokeWidth":1,"size":24,"opacity":1},"encoding":{"xOffset":{"field":"j","type":"quantitative","scale":{"domain":[-2,2]}}}}
   ]}
 ],"spacing":84,"bounds":"flush","title":{"text":" ","anchor":"start","frame":"group","dx":-55,"fontSize":20,"offset":21}}
],"spacing":0,"bounds":"full"},
{"vconcat":[
 {"width":276,"height":91,"data":{"name":"hdr"},"transform":[{"filter":"datum.c==='R'"}],
  "encoding":{"y":{"field":"role","type":"nominal","scale":{"type":"point","domain":["_1","title","_2","thick","_3","_4","sub","_5","thin","_6"],"padding":0},"axis":null}},
  "layer":[
   {"transform":[{"filter":"datum.role==='title'"}],"mark":{"type":"text","fontSize":20,"fontStyle":"italic","color":"#231f20","baseline":"middle"},"encoding":{"text":{"field":"t"},"x":{"datum":"mid","type":"nominal","scale":{"type":"point","domain":["start","mid","end"],"range":[-54,276],"padding":0},"axis":null}}},
   {"transform":[{"filter":"datum.role==='sub'"}],"mark":{"type":"text","fontSize":16,"fontStyle":"italic","color":"#231f20","baseline":"middle"},"encoding":{"text":{"field":"t"},"x":{"datum":"mid","type":"nominal","axis":null}}},
   {"transform":[{"filter":"datum.role==='thick'"}],"mark":{"type":"rule","strokeWidth":2.7,"color":"#231f20"},"encoding":{"x":{"datum":"start","type":"nominal","axis":null},"x2":{"datum":"end"}}},
   {"transform":[{"filter":"datum.role==='thin'"}],"mark":{"type":"rule","strokeWidth":1,"color":"#231f20"},"encoding":{"x":{"datum":"start","type":"nominal","axis":null},"x2":{"datum":"end"}}}
  ]},
 {"hconcat":[
  {"width":86,"height":135,"title":"Trials completed","data":{"name":"d"},"transform":[{"filter":"datum.p==='c1'"}],
   "encoding":{"x":{"field":"g","type":"nominal","sort":["Saline","Antagonist","Agonist"],"title":null,"scale":{"paddingInner":0.33,"paddingOuter":0.25}},"y":{"field":"v","type":"quantitative","title":"Trials completed","scale":{"domain":[0,300],"nice":false,"zero":false},"axis":{"values":[0,100,200,300]}}},
   "layer":[
    {"transform":[{"filter":"datum.k==='m'"}],"mark":{"type":"bar","clip":true},"encoding":{"color":{"field":"g","type":"nominal","scale":{"domain":["Saline","Antagonist","Agonist"],"range":["#d1d3d4","#414042","#414042"]},"legend":null}}},
    {"transform":[{"filter":"datum.k==='m'"}],"mark":{"type":"rule","color":"#231f20","strokeWidth":1.2},"encoding":{"y2":{"field":"hi"}}},
    {"transform":[{"filter":"datum.k==='m'"}],"mark":{"type":"tick","color":"#231f20","thickness":1.2,"size":8},"encoding":{"y":{"field":"hi","type":"quantitative","title":"Trials completed","scale":{"domain":[0,300],"nice":false,"zero":false}}}},
    {"transform":[{"filter":"datum.k==='s'"}],"mark":{"type":"point","shape":"circle","filled":true,"fill":"#ffffff","stroke":"#231f20","strokeWidth":1,"size":24,"opacity":1},"encoding":{"xOffset":{"field":"j","type":"quantitative","scale":{"domain":[-2,2]}}}},
    {"transform":[{"filter":"datum.k==='t'"}],"mark":{"type":"text","fontSize":16,"color":"#231f20","baseline":"middle"},"encoding":{"text":{"field":"t"}}}
   ]},
  {"width":86,"height":135,"title":"Response latency","data":{"name":"d"},"transform":[{"filter":"datum.p==='c2'"}],
   "encoding":{"x":{"field":"g","type":"nominal","sort":["Saline","Antagonist","Agonist"],"title":null,"scale":{"paddingInner":0.33,"paddingOuter":0.25}},"y":{"field":"v","type":"quantitative","title":"Median latency (s)","scale":{"domain":[0,6],"nice":false,"zero":false},"axis":{"values":[0,2,4,6]}}},
   "layer":[
    {"transform":[{"filter":"datum.k==='m'"}],"mark":{"type":"bar","clip":true},"encoding":{"color":{"field":"g","type":"nominal","scale":{"domain":["Saline","Antagonist","Agonist"],"range":["#d1d3d4","#414042","#414042"]},"legend":null}}},
    {"transform":[{"filter":"datum.k==='m'"}],"mark":{"type":"rule","color":"#231f20","strokeWidth":1.2},"encoding":{"y2":{"field":"hi"}}},
    {"transform":[{"filter":"datum.k==='m'"}],"mark":{"type":"tick","color":"#231f20","thickness":1.2,"size":8},"encoding":{"y":{"field":"hi","type":"quantitative","title":"Median latency (s)","scale":{"domain":[0,6],"nice":false,"zero":false}}}},
    {"transform":[{"filter":"datum.k==='s'"}],"mark":{"type":"point","shape":"circle","filled":true,"fill":"#ffffff","stroke":"#231f20","strokeWidth":1,"size":24,"opacity":1},"encoding":{"xOffset":{"field":"j","type":"quantitative","scale":{"domain":[-2,2]}}}},
    {"transform":[{"filter":"datum.k==='t'"}],"mark":{"type":"text","fontSize":16,"color":"#231f20","baseline":"middle"},"encoding":{"text":{"field":"t"}}}
   ]}
 ],"spacing":87,"bounds":"flush","title":{"text":"c","anchor":"start","frame":"group","dx":-54,"fontSize":20,"offset":2}},
 {"hconcat":[
  {"width":86,"height":135,"title":"Performance: reversals","data":{"name":"d"},"transform":[{"filter":"datum.p==='c3'"}],
   "encoding":{"x":{"field":"g","type":"nominal","sort":["Saline","Antagonist","Agonist"],"title":null,"scale":{"paddingInner":0.33,"paddingOuter":0.25}},"y":{"field":"v","type":"quantitative","title":"# of reversals / 100 trials","scale":{"domain":[0,8],"nice":false,"zero":false},"axis":{"values":[0,2,4,6,8]}}},
   "layer":[
    {"transform":[{"filter":"datum.k==='m'"}],"mark":{"type":"bar","clip":true},"encoding":{"color":{"field":"g","type":"nominal","scale":{"domain":["Saline","Antagonist","Agonist"],"range":["#d1d3d4","#414042","#414042"]},"legend":null}}},
    {"transform":[{"filter":"datum.k==='m'"}],"mark":{"type":"rule","color":"#231f20","strokeWidth":1.2},"encoding":{"y2":{"field":"hi"}}},
    {"transform":[{"filter":"datum.k==='m'"}],"mark":{"type":"tick","color":"#231f20","thickness":1.2,"size":8},"encoding":{"y":{"field":"hi","type":"quantitative","title":"# of reversals / 100 trials","scale":{"domain":[0,8],"nice":false,"zero":false}}}},
    {"transform":[{"filter":"datum.k==='s'"}],"mark":{"type":"point","shape":"circle","filled":true,"fill":"#ffffff","stroke":"#231f20","strokeWidth":1,"size":24,"opacity":1},"encoding":{"xOffset":{"field":"j","type":"quantitative","scale":{"domain":[-2,2]}}}}
   ]},
  {"width":86,"height":135,"title":{"text":"Performance: rewarded","dx":-12},"data":{"name":"d"},"transform":[{"filter":"datum.p==='c4'"}],
   "encoding":{"x":{"field":"g","type":"nominal","sort":["Saline","Antagonist","Agonist"],"title":null,"scale":{"paddingInner":0.33,"paddingOuter":0.25}},"y":{"field":"v","type":"quantitative","title":"Fraction rewarded trials","scale":{"domain":[0.5,0.75],"nice":false,"zero":false},"axis":{"values":[0.5,0.55,0.6,0.65,0.7,0.75],"format":".2f"}}},
   "layer":[
    {"transform":[{"filter":"datum.k==='m'"}],"mark":{"type":"bar","clip":true},"encoding":{"color":{"field":"g","type":"nominal","scale":{"domain":["Saline","Antagonist","Agonist"],"range":["#d1d3d4","#414042","#414042"]},"legend":null}}},
    {"transform":[{"filter":"datum.k==='m'"}],"mark":{"type":"rule","color":"#231f20","strokeWidth":1.2},"encoding":{"y2":{"field":"hi"}}},
    {"transform":[{"filter":"datum.k==='m'"}],"mark":{"type":"tick","color":"#231f20","thickness":1.2,"size":8},"encoding":{"y":{"field":"hi","type":"quantitative","title":"Fraction rewarded trials","scale":{"domain":[0.5,0.75],"nice":false,"zero":false}}}},
    {"transform":[{"filter":"datum.k==='s'"}],"mark":{"type":"point","shape":"circle","filled":true,"fill":"#ffffff","stroke":"#231f20","strokeWidth":1,"size":24,"opacity":1},"encoding":{"xOffset":{"field":"j","type":"quantitative","scale":{"domain":[-2,2]}}}}
   ]}
 ],"spacing":87,"bounds":"flush","title":{"text":" ","anchor":"start","frame":"group","dx":-54,"fontSize":20,"offset":20}},
 {"width":276,"height":63,"data":{"name":"hdr"},"transform":[{"filter":"datum.c==='R2'"}],
  "encoding":{"y":{"field":"role","type":"nominal","scale":{"type":"point","domain":["_1","_2","_3","sub","_5","thin","_6"],"padding":0},"axis":null}},
  "layer":[
   {"transform":[{"filter":"datum.role==='sub'"}],"mark":{"type":"text","fontSize":16,"fontStyle":"italic","color":"#231f20","baseline":"middle","dx":4},"encoding":{"text":{"field":"t"},"x":{"datum":"mid","type":"nominal","scale":{"type":"point","domain":["start","mid","end"],"range":[-54,276],"padding":0},"axis":null}}},
   {"transform":[{"filter":"datum.role==='thin'"}],"mark":{"type":"rule","strokeWidth":1,"color":"#231f20"},"encoding":{"x":{"datum":"start","type":"nominal","axis":null},"x2":{"datum":"end"}}}
  ]},
 {"hconcat":[
  {"width":86,"height":135,"title":"Rew learning rate","data":{"name":"d"},"transform":[{"filter":"datum.p==='d1'"}],
   "encoding":{"x":{"field":"g","type":"nominal","sort":["Saline","Antagonist","Agonist"],"title":null,"scale":{"paddingInner":0.33,"paddingOuter":0.25}},"y":{"field":"v","type":"quantitative","title":"α+","scale":{"domain":[0,1],"nice":false,"zero":false},"axis":{"values":[0,0.2,0.4,0.6,0.8,1],"format":".1f"}}},
   "layer":[
    {"transform":[{"filter":"datum.k==='m'"}],"mark":{"type":"bar","clip":true},"encoding":{"color":{"field":"g","type":"nominal","scale":{"domain":["Saline","Antagonist","Agonist"],"range":["#d1d3d4","#414042","#414042"]},"legend":null}}},
    {"transform":[{"filter":"datum.k==='m'"}],"mark":{"type":"rule","color":"#231f20","strokeWidth":1.2},"encoding":{"y2":{"field":"hi"}}},
    {"transform":[{"filter":"datum.k==='m'"}],"mark":{"type":"tick","color":"#231f20","thickness":1.2,"size":8},"encoding":{"y":{"field":"hi","type":"quantitative","title":"α+","scale":{"domain":[0,1],"nice":false,"zero":false}}}},
    {"transform":[{"filter":"datum.k==='s'"}],"mark":{"type":"point","shape":"circle","filled":true,"fill":"#ffffff","stroke":"#231f20","strokeWidth":1,"size":24,"opacity":1},"encoding":{"xOffset":{"field":"j","type":"quantitative","scale":{"domain":[-2,2]}}}}
   ]},
  {"width":86,"height":135,"title":"Pun learning rate","data":{"name":"d"},"transform":[{"filter":"datum.p==='d2'"}],
   "encoding":{"x":{"field":"g","type":"nominal","sort":["Saline","Antagonist","Agonist"],"title":null,"scale":{"paddingInner":0.33,"paddingOuter":0.25}},"y":{"field":"v","type":"quantitative","title":"α-","scale":{"domain":[0.5,1.0],"nice":false,"zero":false},"axis":{"values":[0.5,0.6,0.7,0.8,0.9,1.0],"format":".1f"}}},
   "layer":[
    {"transform":[{"filter":"datum.k==='m'"}],"mark":{"type":"bar","clip":true},"encoding":{"color":{"field":"g","type":"nominal","scale":{"domain":["Saline","Antagonist","Agonist"],"range":["#d1d3d4","#414042","#414042"]},"legend":null}}},
    {"transform":[{"filter":"datum.k==='m'"}],"mark":{"type":"rule","color":"#231f20","strokeWidth":1.2},"encoding":{"y2":{"field":"hi"}}},
    {"transform":[{"filter":"datum.k==='m'"}],"mark":{"type":"tick","color":"#231f20","thickness":1.2,"size":8},"encoding":{"y":{"field":"hi","type":"quantitative","title":"α-","scale":{"domain":[0.5,1.0],"nice":false,"zero":false}}}},
    {"transform":[{"filter":"datum.k==='s'"}],"mark":{"type":"point","shape":"circle","filled":true,"fill":"#ffffff","stroke":"#231f20","strokeWidth":1,"size":24,"opacity":1},"encoding":{"xOffset":{"field":"j","type":"quantitative","scale":{"domain":[-2,2]}}}}
   ]}
 ],"spacing":87,"bounds":"flush","title":{"text":"d","anchor":"start","frame":"group","dx":-54,"fontSize":20,"offset":-7}},
 {"hconcat":[
  {"width":86,"height":135,"title":"Stickiness","data":{"name":"d"},"transform":[{"filter":"datum.p==='d3'"}],
   "encoding":{"y":{"field":"v","type":"quantitative","title":"π","scale":{"domain":[-0.5,1],"nice":false,"zero":false},"axis":{"values":[-0.5,0,0.5,1],"format":".1f"}}},
   "layer":[
    {"transform":[{"filter":"datum.k==='m'"}],"mark":{"type":"bar","clip":true},"encoding":{"x":{"field":"g","type":"nominal","sort":["Saline","Antagonist","Agonist"],"title":null,"scale":{"paddingInner":0.33,"paddingOuter":0.25}},"color":{"field":"g","type":"nominal","scale":{"domain":["Saline","Antagonist","Agonist"],"range":["#d1d3d4","#414042","#414042"]},"legend":null}}},
    {"transform":[{"filter":"datum.k==='m' && datum.g==='Saline'"}],"mark":{"type":"rule","color":"#231f20","strokeWidth":1.2},"encoding":{"y":{"datum":0}}},
    {"transform":[{"filter":"datum.k==='m'"}],"mark":{"type":"rule","color":"#231f20","strokeWidth":1.2},"encoding":{"x":{"field":"g","type":"nominal","sort":["Saline","Antagonist","Agonist"],"title":null},"y2":{"field":"hi"}}},
    {"transform":[{"filter":"datum.k==='m'"}],"mark":{"type":"tick","color":"#231f20","thickness":1.2,"size":8},"encoding":{"x":{"field":"g","type":"nominal","sort":["Saline","Antagonist","Agonist"],"title":null},"y":{"field":"hi","type":"quantitative","title":"π","scale":{"domain":[-0.5,1],"nice":false,"zero":false}}}},
    {"transform":[{"filter":"datum.k==='s'"}],"mark":{"type":"point","shape":"circle","filled":true,"fill":"#ffffff","stroke":"#231f20","strokeWidth":1,"size":24,"opacity":1},"encoding":{"x":{"field":"g","type":"nominal","sort":["Saline","Antagonist","Agonist"],"title":null},"xOffset":{"field":"j","type":"quantitative","scale":{"domain":[-2,2]}}}}
   ]},
  {"width":86,"height":135,"title":"Explore/Exploit","data":{"name":"d"},"transform":[{"filter":"datum.p==='d4'"}],
   "encoding":{"x":{"field":"g","type":"nominal","sort":["Saline","Antagonist","Agonist"],"title":null,"scale":{"paddingInner":0.33,"paddingOuter":0.25}},"y":{"field":"v","type":"quantitative","title":"β","scale":{"domain":[0,6],"nice":false,"zero":false},"axis":{"values":[0,2,4,6]}}},
   "layer":[
    {"transform":[{"filter":"datum.k==='m'"}],"mark":{"type":"bar","clip":true},"encoding":{"color":{"field":"g","type":"nominal","scale":{"domain":["Saline","Antagonist","Agonist"],"range":["#d1d3d4","#414042","#414042"]},"legend":null}}},
    {"transform":[{"filter":"datum.k==='m'"}],"mark":{"type":"rule","color":"#231f20","strokeWidth":1.2},"encoding":{"y2":{"field":"hi"}}},
    {"transform":[{"filter":"datum.k==='m'"}],"mark":{"type":"tick","color":"#231f20","thickness":1.2,"size":8},"encoding":{"y":{"field":"hi","type":"quantitative","title":"β","scale":{"domain":[0,6],"nice":false,"zero":false}}}},
    {"transform":[{"filter":"datum.k==='s'"}],"mark":{"type":"point","shape":"circle","filled":true,"fill":"#ffffff","stroke":"#231f20","strokeWidth":1,"size":24,"opacity":1},"encoding":{"xOffset":{"field":"j","type":"quantitative","scale":{"domain":[-2,2]}}}}
   ]}
 ],"spacing":87,"bounds":"flush","title":{"text":" ","anchor":"start","frame":"group","dx":-54,"fontSize":20,"offset":21}}
],"spacing":0,"bounds":"full"}
],
"spacing":22,
"bounds":"full"
}
